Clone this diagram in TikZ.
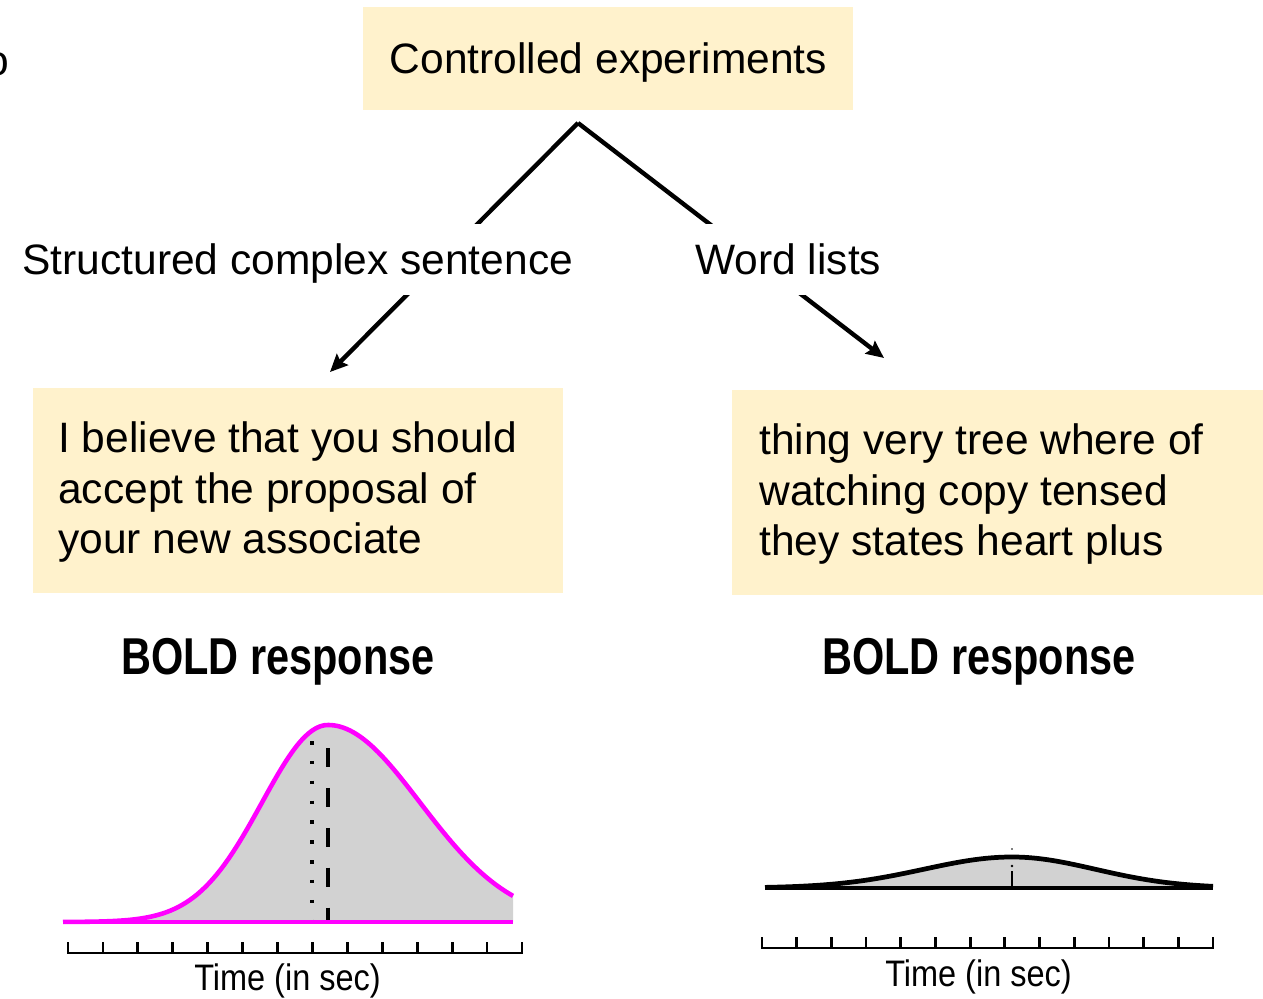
\documentclass[tikz,border=0pt]{standalone}
\usepackage{fontspec}
\setmainfont{Liberation Sans}
\newfontfamily\condfont[FakeStretch=0.80]{Liberation Sans}
\newfontfamily\timefont[FakeStretch=0.88]{Liberation Sans}
\usetikzlibrary{arrows.meta}

\definecolor{boxyellow}{HTML}{FFF2CC}
\definecolor{curvefill}{HTML}{D2D2D2}
\definecolor{hrfmagenta}{HTML}{FF00FF}

% one drawing unit is 0.02cm (about 0.567pt)
\tikzset{
  mainfont/.style={font=\fontsize{24.2}{29}\selectfont},
  box/.style={fill=boxyellow, draw=none, inner sep=0pt, anchor=north west},
  boxtext/.style={mainfont, inner sep=0pt, anchor=base west},
  conn/.style={line width=2.5pt, -{Stealth[length=10pt, width=9pt, inset=1.5pt]}},
  branch/.style={mainfont, fill=white, inner xsep=0pt, inner ysep=0pt,
                 text height=28.9pt, text depth=11.3pt, anchor=base west},
  boldtitle/.style={font=\condfont\bfseries\fontsize{29.5}{35}\selectfont, inner sep=0pt, anchor=base},
  timelabel/.style={font=\timefont\fontsize{21}{25}\selectfont, inner sep=0pt, anchor=base},
  axisline/.style={line width=1.6pt, line cap=rect},
  hrfline/.style={line width=2.6pt, hrfmagenta, line join=round},
  flatline/.style={line width=2.7pt, black, line join=round},
}

\begin{document}
\begin{tikzpicture}[x=0.02cm, y=-0.02cm]
\useasboundingbox (0,0) rectangle (1263,999);

% clipped glyph at the left edge
\node[boxtext] (frag) at (-15,76) {o};

% top box
\node[box, minimum width=9.8cm, minimum height=2.06cm] (top) at (363,7) {};
\node[boxtext] (toptext) at (389.5,74) {Controlled experiments};

% branching connectors
\coordinate (apex) at (578,123);
\coordinate (ltip) at (330,372);
\coordinate (rtip) at (884,358);
\draw[conn] (apex) -- (ltip);
\draw[conn] (apex) -- (rtip);

% branch labels (white background interrupts the connectors)
\node[branch] (lsent) at (22,275) {Structured complex sentence};
\node[branch] (lword) at (695,275) {Word lists};

% stimulus boxes
\node[box, minimum width=10.6cm, minimum height=4.1cm] (lbox) at (33,388) {};
\node[boxtext] (l1) at (58,453) {I believe that you should};
\node[boxtext] (l2) at (58,503) {accept the proposal of};
\node[boxtext] (l3) at (58,553) {your new associate};

\node[box, minimum width=10.62cm, minimum height=4.1cm] (rbox) at (732,390) {};
\node[boxtext] (r1) at (759,455) {thing very tree where of};
\node[boxtext] (r2) at (759,505) {watching copy tensed};
\node[boxtext] (r3) at (759,555) {they states heart plus};

% BOLD titles
\node[boldtitle] (lbold) at (278,674) {BOLD response};
\node[boldtitle] (rbold) at (979,674) {BOLD response};

% left response curve
\fill[curvefill] (63,922)
  -- plot[domain=63:328, samples=70] (\x,{922-197*exp(-0.5*((\x-328)/66)*((\x-328)/66))})
  -- plot[domain=328:513, samples=60] (\x,{922-197*exp(-0.5*((\x-328)/92)*((\x-328)/92))})
  -- (513,922) -- cycle;
\draw[line width=2pt, dash pattern=on 2pt off 9.3pt] (312,741) -- (312,925);
\draw[line width=1.9pt, dash pattern=on 10.8pt off 11.9pt] (328,748) -- (328,923);
\draw[hrfline] plot[domain=63:328, samples=70] (\x,{922-197*exp(-0.5*((\x-328)/66)*((\x-328)/66))})
  -- plot[domain=328:513, samples=60] (\x,{922-197*exp(-0.5*((\x-328)/92)*((\x-328)/92))});
\draw[hrfline] (63,922) -- (513,922);

% left time axis
\draw[axisline] (68,953) -- (522,953);
\foreach \i in {0,...,13} {
  \draw[axisline] ({68+\i*34.92},953) -- ++(0,-10);
}
\node[timelabel] (ltime) at (287.5,990) {Time (in sec)};

% right response curve
\fill[curvefill] (765,888)
  -- plot[domain=765:1012, samples=60] (\x,{888-31*exp(-0.5*((\x-1012)/88)*((\x-1012)/88))})
  -- plot[domain=1012:1213, samples=50] (\x,{888-31*exp(-0.5*((\x-1012)/83)*((\x-1012)/83))})
  -- (1213,888) -- cycle;
\draw[line width=1.3pt] (1012,871) -- (1012,888);
\fill (1012,866) circle[radius=1.3];
\fill (1012,849) circle[radius=0.9];
\draw[line width=1.8pt] (765,888) -- (1213,888);
\draw[flatline] plot[domain=765:1012, samples=60] (\x,{888-31*exp(-0.5*((\x-1012)/88)*((\x-1012)/88))})
  -- plot[domain=1012:1213, samples=50] (\x,{888-31*exp(-0.5*((\x-1012)/83)*((\x-1012)/83))});

% right time axis
\draw[axisline] (762,948) -- (1213,948);
\foreach \i in {0,...,13} {
  \draw[axisline] ({762+\i*34.69},948) -- ++(0,-10);
}
\node[timelabel] (rtime) at (978.5,986) {Time (in sec)};
\end{tikzpicture}
\end{document}
